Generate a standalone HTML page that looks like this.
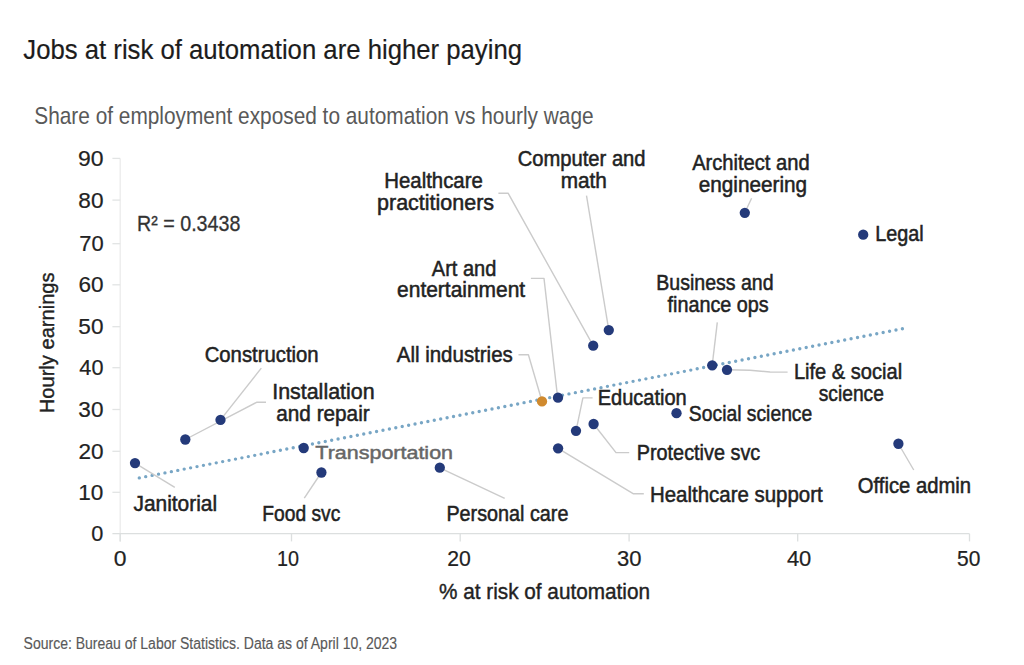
<!DOCTYPE html><html><head><meta charset="utf-8"><title>Jobs at risk of automation are higher paying</title><style>html,body{margin:0;padding:0;background:#fff;width:1024px;height:665px;overflow:hidden}svg{display:block}</style></head><body><svg width="1024" height="665" viewBox="0 0 1024 665"><rect width="1024" height="665" fill="#ffffff"/><path d="M120.2 158.4 V541.4" stroke="#ebebeb" stroke-width="1.3" fill="none"/><g stroke="#e2e4e4" stroke-width="1.3" fill="none"><path d="M112.4 492.30 H120.2"/><path d="M112.4 451.30 H120.2"/><path d="M112.4 409.50 H120.2"/><path d="M112.4 367.70 H120.2"/><path d="M112.4 326.70 H120.2"/><path d="M112.4 284.80 H120.2"/><path d="M112.4 243.70 H120.2"/><path d="M112.4 200.10 H120.2"/><path d="M112.4 158.40 H120.2"/></g><g stroke="#dcdfdf" stroke-width="1.3" fill="none"><path d="M112.4 533.7 H969.5"/><path d="M120.20 533.7 V541.4"/><path d="M291.50 533.7 V541.4"/><path d="M460.20 533.7 V541.4"/><path d="M629.10 533.7 V541.4"/><path d="M797.70 533.7 V541.4"/><path d="M969.50 533.7 V541.4"/></g><path d="M139.3 477.9 L902.4 328.7" stroke="#78a6c5" stroke-width="3.4" stroke-linecap="round" stroke-dasharray="0 6.5340" fill="none"/><g stroke="#cbcbcb" stroke-width="1.4" fill="none" stroke-linejoin="round"><path d="M135.00 463.10 L174.80 487.30"/><path d="M261.30 368.10 L220.50 419.90"/><path d="M266.00 402.30 L256.60 402.30 L185.30 439.50"/><path d="M321.40 472.50 L304.30 498.10"/><path d="M439.80 467.80 L504.70 498.30"/><path d="M558.10 448.30 L633.10 493.70 L643.80 493.70"/><path d="M593.60 424.00 L616.00 452.60 L629.20 452.60"/><path d="M576.00 430.80 L582.90 397.90 L592.60 397.90"/><path d="M518.50 354.70 L528.40 354.70 L542.00 401.20"/><path d="M530.90 278.40 L544.00 278.40 L557.60 397.30"/><path d="M498.40 193.20 L508.10 193.20 L593.20 345.70"/><path d="M586.50 195.60 L608.80 330.10"/><path d="M751.60 198.30 L744.80 212.80"/><path d="M717.30 322.30 L712.20 365.30"/><path d="M727.00 369.80 L750.00 370.20 L770.00 372.00 L787.60 372.10"/><path d="M898.40 443.75 L913.75 470.00"/></g><circle cx="135.0" cy="463.1" r="5.15" fill="#243a7a"/><circle cx="185.3" cy="439.5" r="5.15" fill="#243a7a"/><circle cx="220.5" cy="419.9" r="5.15" fill="#243a7a"/><circle cx="303.7" cy="448.0" r="5.15" fill="#243a7a"/><circle cx="321.4" cy="472.5" r="5.15" fill="#243a7a"/><circle cx="439.8" cy="467.7" r="5.15" fill="#243a7a"/><circle cx="542.0" cy="401.4" r="5.15" fill="#d08a2e"/><circle cx="558.0" cy="397.7" r="5.15" fill="#243a7a"/><circle cx="558.1" cy="448.3" r="5.15" fill="#243a7a"/><circle cx="576.0" cy="430.8" r="5.15" fill="#243a7a"/><circle cx="593.6" cy="424.0" r="5.15" fill="#243a7a"/><circle cx="593.2" cy="345.7" r="5.15" fill="#243a7a"/><circle cx="608.8" cy="330.1" r="5.15" fill="#243a7a"/><circle cx="676.5" cy="413.2" r="5.15" fill="#243a7a"/><circle cx="712.2" cy="365.3" r="5.15" fill="#243a7a"/><circle cx="727.0" cy="369.8" r="5.15" fill="#243a7a"/><circle cx="744.8" cy="212.8" r="5.15" fill="#243a7a"/><circle cx="863.2" cy="234.7" r="5.15" fill="#243a7a"/><circle cx="898.4" cy="443.75" r="5.15" fill="#243a7a"/><g font-family="'Liberation Sans', Arial, sans-serif" stroke-width="0.5" paint-order="stroke"><text id="title" x="23.30" y="58.80" font-size="27.5" fill="#1c1c1c" textLength="498.71" lengthAdjust="spacingAndGlyphs" stroke="#1c1c1c" stroke-width="0.2">Jobs at risk of automation are higher paying</text><text id="sub" x="34.29" y="123.50" font-size="24.4" fill="#595959" textLength="559.30" lengthAdjust="spacingAndGlyphs" stroke="#595959" stroke-width="0.0">Share of employment exposed to automation vs hourly wage</text><text id="src" x="23.60" y="649.20" font-size="16" fill="#595959" textLength="373.57" lengthAdjust="spacingAndGlyphs" stroke="#595959" stroke-width="0.15">Source: Bureau of Labor Statistics. Data as of April 10, 2023</text><text id="xt" x="438.99" y="599.20" font-size="21.5" fill="#222222" textLength="211.05" lengthAdjust="spacingAndGlyphs" stroke="#222222" stroke-width="0.4">% at risk of automation</text><text id="r2" x="137.02" y="231.40" font-size="22" fill="#333333" textLength="103.35" lengthAdjust="spacingAndGlyphs" stroke="#333333" stroke-width="0.3">R² = 0.3438</text><text id="l_jan" x="133.49" y="510.80" font-size="21.3" fill="#222222" textLength="83.63" lengthAdjust="spacingAndGlyphs" stroke="#222222" stroke-width="0.5">Janitorial</text><text id="l_con" x="204.67" y="362.30" font-size="21.3" fill="#222222" textLength="113.95" lengthAdjust="spacingAndGlyphs" stroke="#222222" stroke-width="0.5">Construction</text><text id="l_ins1" x="272.24" y="399.10" font-size="21.3" fill="#222222" textLength="102.31" lengthAdjust="spacingAndGlyphs" stroke="#222222" stroke-width="0.5">Installation</text><text id="l_ins2" x="276.29" y="421.20" font-size="21.3" fill="#222222" textLength="93.38" lengthAdjust="spacingAndGlyphs" stroke="#222222" stroke-width="0.5">and repair</text><text id="l_tra" x="315.39" y="459.00" font-size="18.3" fill="#666666" textLength="137.66" lengthAdjust="spacingAndGlyphs" stroke="#666666" stroke-width="0.45">Transportation</text><text id="l_food" x="262.30" y="521.10" font-size="21.3" fill="#222222" textLength="78.00" lengthAdjust="spacingAndGlyphs" stroke="#222222" stroke-width="0.5">Food svc</text><text id="l_pers" x="446.44" y="521.10" font-size="21.3" fill="#222222" textLength="121.96" lengthAdjust="spacingAndGlyphs" stroke="#222222" stroke-width="0.5">Personal care</text><text id="l_hcs" x="649.98" y="501.70" font-size="21.3" fill="#222222" textLength="172.70" lengthAdjust="spacingAndGlyphs" stroke="#222222" stroke-width="0.5">Healthcare support</text><text id="l_prot" x="636.73" y="460.20" font-size="21.3" fill="#222222" textLength="123.53" lengthAdjust="spacingAndGlyphs" stroke="#222222" stroke-width="0.5">Protective svc</text><text id="l_edu" x="597.65" y="405.20" font-size="21.3" fill="#222222" textLength="89.06" lengthAdjust="spacingAndGlyphs" stroke="#222222" stroke-width="0.5">Education</text><text id="l_soc" x="688.86" y="420.50" font-size="21.3" fill="#222222" textLength="123.41" lengthAdjust="spacingAndGlyphs" stroke="#222222" stroke-width="0.5">Social science</text><text id="l_off" x="857.78" y="493.20" font-size="21.3" fill="#222222" textLength="113.25" lengthAdjust="spacingAndGlyphs" stroke="#222222" stroke-width="0.5">Office admin</text><text id="l_life1" x="793.92" y="378.60" font-size="21.3" fill="#222222" textLength="108.24" lengthAdjust="spacingAndGlyphs" stroke="#222222" stroke-width="0.5">Life &amp; social</text><text id="l_life2" x="818.72" y="400.90" font-size="21.3" fill="#222222" textLength="65.14" lengthAdjust="spacingAndGlyphs" stroke="#222222" stroke-width="0.5">science</text><text id="l_bus1" x="656.32" y="290.35" font-size="21.3" fill="#222222" textLength="117.23" lengthAdjust="spacingAndGlyphs" stroke="#222222" stroke-width="0.5">Business and</text><text id="l_bus2" x="667.49" y="311.50" font-size="21.3" fill="#222222" textLength="101.21" lengthAdjust="spacingAndGlyphs" stroke="#222222" stroke-width="0.5">finance ops</text><text id="l_leg" x="875.23" y="241.10" font-size="21.3" fill="#222222" textLength="48.46" lengthAdjust="spacingAndGlyphs" stroke="#222222" stroke-width="0.5">Legal</text><text id="l_arc1" x="692.17" y="170.35" font-size="21.3" fill="#222222" textLength="117.46" lengthAdjust="spacingAndGlyphs" stroke="#222222" stroke-width="0.5">Architect and</text><text id="l_arc2" x="698.75" y="191.50" font-size="21.3" fill="#222222" textLength="108.41" lengthAdjust="spacingAndGlyphs" stroke="#222222" stroke-width="0.5">engineering</text><text id="l_com1" x="517.69" y="166.20" font-size="21.3" fill="#222222" textLength="127.87" lengthAdjust="spacingAndGlyphs" stroke="#222222" stroke-width="0.5">Computer and</text><text id="l_com2" x="560.66" y="187.70" font-size="21.3" fill="#222222" textLength="46.19" lengthAdjust="spacingAndGlyphs" stroke="#222222" stroke-width="0.5">math</text><text id="l_hp1" x="384.27" y="187.80" font-size="21.3" fill="#222222" textLength="98.53" lengthAdjust="spacingAndGlyphs" stroke="#222222" stroke-width="0.5">Healthcare</text><text id="l_hp2" x="377.05" y="209.70" font-size="21.3" fill="#222222" textLength="117.01" lengthAdjust="spacingAndGlyphs" stroke="#222222" stroke-width="0.5">practitioners</text><text id="l_art1" x="431.85" y="275.60" font-size="21.3" fill="#222222" textLength="64.53" lengthAdjust="spacingAndGlyphs" stroke="#222222" stroke-width="0.5">Art and</text><text id="l_art2" x="397.08" y="297.10" font-size="21.3" fill="#222222" textLength="128.11" lengthAdjust="spacingAndGlyphs" stroke="#222222" stroke-width="0.5">entertainment</text><text id="l_all" x="396.78" y="362.00" font-size="21.3" fill="#222222" textLength="116.01" lengthAdjust="spacingAndGlyphs" stroke="#222222" stroke-width="0.5">All industries</text><text id="y0" x="91.30" y="541.30" font-size="22" fill="#222222" textLength="12.10" lengthAdjust="spacingAndGlyphs" stroke="#222222" stroke-width="0.2">0</text><text id="y10" x="78.31" y="499.90" font-size="22" fill="#222222" textLength="25.16" lengthAdjust="spacingAndGlyphs" stroke="#222222" stroke-width="0.2">10</text><text id="y20" x="78.41" y="458.90" font-size="22" fill="#222222" textLength="25.10" lengthAdjust="spacingAndGlyphs" stroke="#222222" stroke-width="0.2">20</text><text id="y30" x="78.39" y="417.10" font-size="22" fill="#222222" textLength="25.11" lengthAdjust="spacingAndGlyphs" stroke="#222222" stroke-width="0.2">30</text><text id="y40" x="79.35" y="375.30" font-size="22" fill="#222222" textLength="24.11" lengthAdjust="spacingAndGlyphs" stroke="#222222" stroke-width="0.2">40</text><text id="y50" x="78.39" y="334.30" font-size="22" fill="#222222" textLength="25.11" lengthAdjust="spacingAndGlyphs" stroke="#222222" stroke-width="0.2">50</text><text id="y60" x="78.41" y="292.40" font-size="22" fill="#222222" textLength="25.10" lengthAdjust="spacingAndGlyphs" stroke="#222222" stroke-width="0.2">60</text><text id="y70" x="79.37" y="251.30" font-size="22" fill="#222222" textLength="24.41" lengthAdjust="spacingAndGlyphs" stroke="#222222" stroke-width="0.2">70</text><text id="y80" x="78.34" y="207.70" font-size="22" fill="#222222" textLength="25.15" lengthAdjust="spacingAndGlyphs" stroke="#222222" stroke-width="0.2">80</text><text id="y90" x="77.92" y="166.00" font-size="22" fill="#222222" textLength="25.55" lengthAdjust="spacingAndGlyphs" stroke="#222222" stroke-width="0.2">90</text><text id="x0" x="113.83" y="565.50" font-size="22" fill="#222222" textLength="12.77" lengthAdjust="spacingAndGlyphs" stroke="#222222" stroke-width="0.2">0</text><text id="x10" x="277.01" y="565.50" font-size="22" fill="#222222" textLength="22.04" lengthAdjust="spacingAndGlyphs" stroke="#222222" stroke-width="0.2">10</text><text id="x20" x="447.17" y="565.50" font-size="22" fill="#222222" textLength="23.59" lengthAdjust="spacingAndGlyphs" stroke="#222222" stroke-width="0.2">20</text><text id="x30" x="617.06" y="565.50" font-size="22" fill="#222222" textLength="24.50" lengthAdjust="spacingAndGlyphs" stroke="#222222" stroke-width="0.2">30</text><text id="x40" x="786.90" y="565.50" font-size="22" fill="#222222" textLength="24.43" lengthAdjust="spacingAndGlyphs" stroke="#222222" stroke-width="0.2">40</text><text id="x50" x="957.04" y="565.50" font-size="22" fill="#222222" textLength="23.33" lengthAdjust="spacingAndGlyphs" stroke="#222222" stroke-width="0.2">50</text><text id="yt" transform="translate(54.00,0) rotate(-90)" x="-413.26" y="0" font-size="21" fill="#222222" stroke="#222222" stroke-width="0.4" textLength="140.84" lengthAdjust="spacingAndGlyphs">Hourly earnings</text></g></svg></body></html>
